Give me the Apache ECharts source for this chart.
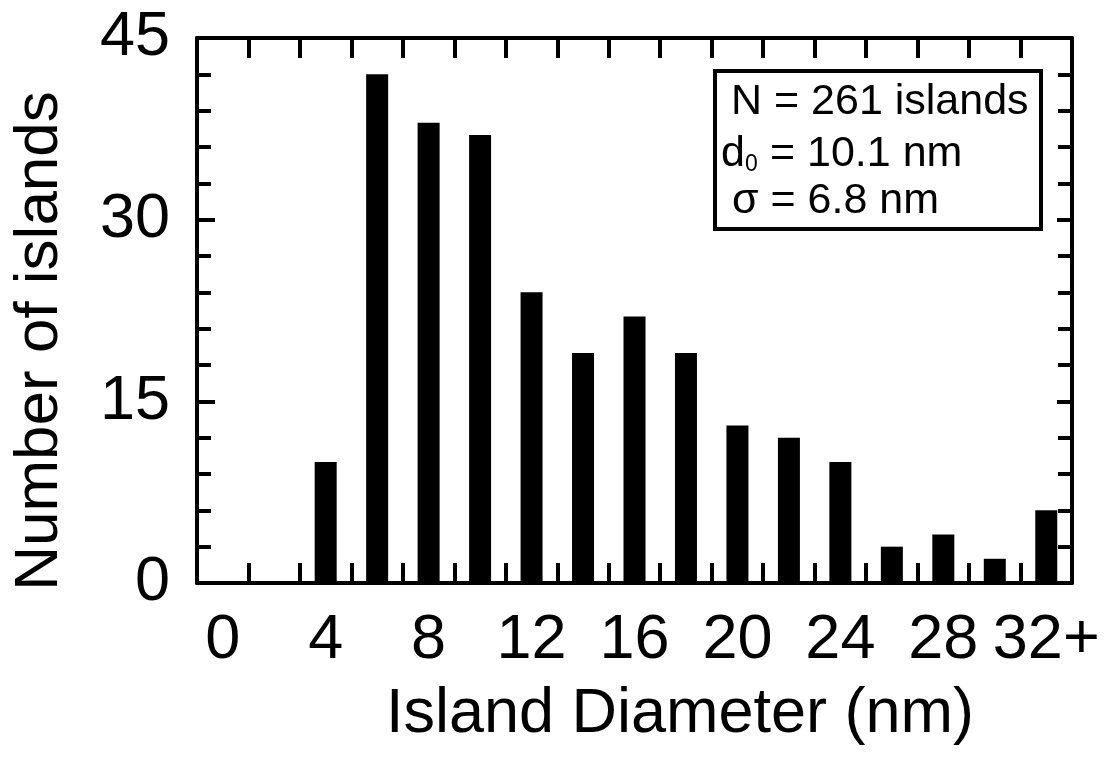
<!DOCTYPE html>
<html>
<head>
<meta charset="utf-8">
<script src="https://cdn.jsdelivr.net/npm/echarts@6/dist/echarts.min.js"></script>
<style>
  html, body { margin: 0; padding: 0; background: #fff; }
  #main { width: 1106px; height: 760px; }
</style>
</head>
<body>
<div id="main"></div>
<script>
// bins of 2 nm, last one is 32 and up
var diameters = ['0', '2', '4', '6', '8', '10', '12', '14', '16', '18', '20', '22', '24', '26', '28', '30', '32+'];
var counts = [0, 0, 10, 42, 38, 37, 24, 19, 22, 19, 13, 12, 10, 3, 4, 2, 6];
var yTicks = [0, 15, 30, 45];
var infoLines = ['N = 261 islands', ' = 10.1 nm', 'σ = 6.8 nm'];

var font = "'Liberation Sans', Arial, sans-serif";
var chartDom = document.getElementById('main');
var myChart = echarts.init(chartDom);

var lineStyle = { color: '#000', width: 4 };
var tickStyle = { color: '#000', width: 4 };

function txt(x, y, s, size) {
  return {
    type: 'text',
    z: 101,
    style: {
      x: x, y: y,
      text: s,
      fontSize: size, fontFamily: font, fill: '#000',
      textVerticalAlign: 'middle'
    }
  };
}

var option = {
  animation: false,
  grid: { left: 197, right: 34, top: 38, bottom: 177 },
  xAxis: [
    {
      type: 'category',
      data: diameters,
      boundaryGap: true,
      axisLine: { onZero: false, lineStyle: lineStyle },
      axisTick: { show: true, inside: true, length: 20, interval: 0, lineStyle: tickStyle },
      axisLabel: { interval: 1, margin: 26, fontSize: 63, fontFamily: font, color: '#000' }
    },
    {
      type: 'category',
      position: 'top',
      data: diameters,
      boundaryGap: true,
      axisLine: { onZero: false, lineStyle: lineStyle },
      axisTick: { show: true, inside: true, length: 20, interval: 0, lineStyle: tickStyle },
      axisLabel: { show: false }
    }
  ],
  yAxis: [
    {
      type: 'value',
      min: yTicks[0],
      max: yTicks[yTicks.length - 1],
      interval: 15,
      splitLine: { show: false },
      axisLine: { show: true, onZero: false, lineStyle: lineStyle },
      axisTick: { show: true, inside: true, length: 18, lineStyle: tickStyle },
      minorTick: { show: true, splitNumber: 5, length: 14, lineStyle: tickStyle },
      axisLabel: { margin: 27, fontSize: 63, fontFamily: font, color: '#000' }
    },
    {
      type: 'value',
      position: 'right',
      min: yTicks[0],
      max: yTicks[yTicks.length - 1],
      interval: 15,
      splitLine: { show: false },
      axisLine: { show: true, onZero: false, lineStyle: lineStyle },
      axisTick: { show: true, inside: true, length: 15, lineStyle: tickStyle },
      minorTick: { show: true, splitNumber: 5, length: 14, lineStyle: tickStyle },
      axisLabel: { show: false }
    }
  ],
  series: [
    {
      name: 'islands',
      type: 'bar',
      data: counts,
      barWidth: 22,
      itemStyle: { color: '#000' }
    }
  ],
  graphic: [
    {
      type: 'text',
      x: 680, y: 715,
      style: {
        x: 0, y: 0,
        text: 'Island Diameter (nm)',
        fontSize: 63, fontFamily: font, fill: '#000',
        textAlign: 'center', textVerticalAlign: 'middle'
      }
    },
    {
      type: 'text',
      rotation: Math.PI / 2,
      x: 40, y: 341,
      style: {
        x: 0, y: 0,
        text: 'Number of islands',
        fontSize: 62, fontFamily: font, fill: '#000',
        textAlign: 'center', textVerticalAlign: 'middle'
      }
    },
    {
      type: 'rect',
      shape: { x: 715, y: 71, width: 326, height: 158 },
      style: { fill: '#fff', stroke: '#000', lineWidth: 4 },
      z: 100
    },
    txt(731, 102, infoLines[0], 43),
    txt(721, 154, 'd', 43),
    txt(745, 165, '0', 23),
    txt(758, 154, infoLines[1], 43),
    txt(732, 201, infoLines[2], 43)
  ]
};

option && myChart.setOption(option);
</script>
</body>
</html>
